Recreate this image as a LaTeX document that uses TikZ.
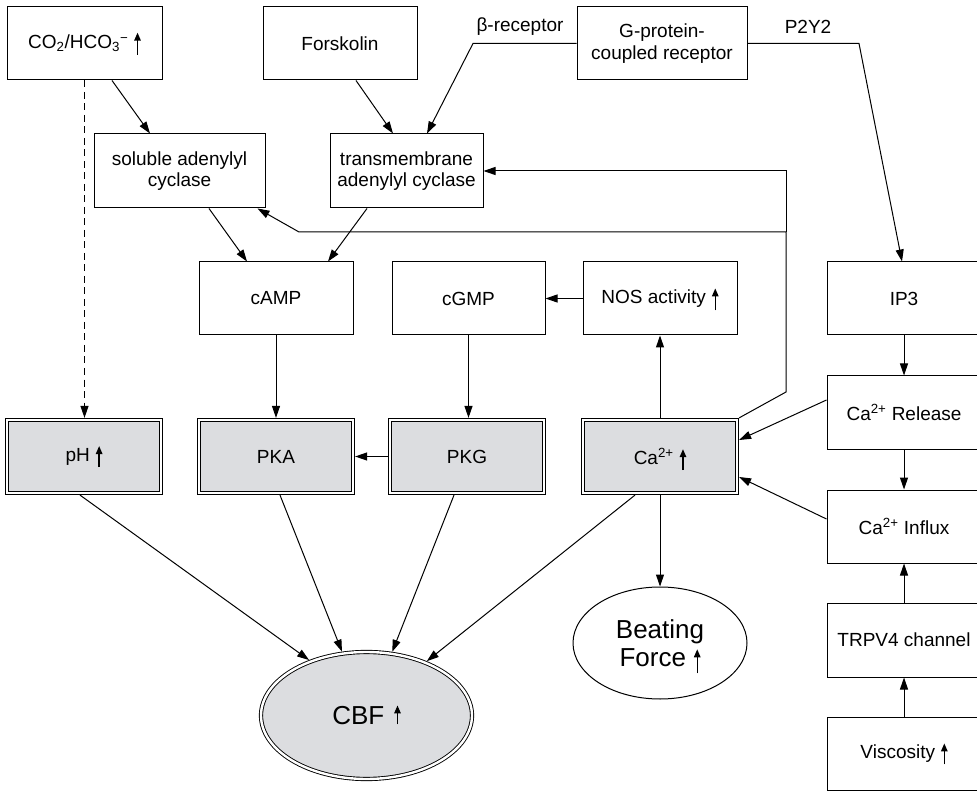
\documentclass[tikz,border=0pt]{standalone}
\usepackage{fontspec}
\setmainfont{Liberation Sans}
\usetikzlibrary{arrows.meta,shapes.geometric}
\definecolor{boxgray}{RGB}{220,221,224}
\newcommand\upar[3][6pt]{\hspace{#1}\smash{\tikz[baseline=0pt]\draw[line width=1.4pt,-{Triangle[length=8pt,width=6.5pt]}](0pt,#2)--(0pt,#3);}}
\tikzset{
  bx/.style={draw, line width=1pt, minimum width=#1, minimum height=73pt, inner sep=0pt, align=center, font=\fontsize{19}{21.5}\selectfont},
  bx/.default=154pt,
  dbx/.style={bx=154pt, fill=boxgray, double=white, double distance=2.4pt, line width=0.9pt, outer sep=2.1pt},
  lbl/.style={inner sep=0pt, font=\fontsize{19}{21.5}\selectfont},
  con/.style={line width=1pt, -{Triangle[length=12pt,width=8pt]}},
}
\begin{document}
\begin{tikzpicture}[x=1pt,y=1pt]
\useasboundingbox (0,0) rectangle (977,-791);
\clip (0,0) rectangle (977,-791);
% top row
\node[bx=155pt] (co2) at (84.5,-43.5) {CO\textsubscript{2}/HCO\textsubscript{3}\textsuperscript{−}\upar{-6pt}{16pt}};
\node[bx] (forsk) at (340,-43.5) {Forskolin};
\node[bx=170pt] (gpcr) at (662,-43.5) {G-protein-\\coupled receptor};
\node[lbl] (lbeta) at (520,-27) {β-receptor};
\node[lbl] (lp2y2) at (808,-27) {P2Y2};
% cyclases
\node[bx=171pt, minimum height=74pt] (sac) at (179.5,-171) {soluble adenylyl\\cyclase};
\node[bx=153pt, minimum height=74pt] (tac) at (406.5,-171) {transmembrane\\adenylyl cyclase};
% second messengers
\node[bx] (camp) at (276,-298.5) {cAMP};
\node[bx=153pt] (cgmp) at (468.5,-298.5) {cGMP};
\node[bx] (nos) at (660,-298.5) {NOS activity\upar{-7pt}{15pt}};
\node[bx] (ip3) at (904,-298.5) {IP3};
% double boxes
\node[dbx] (ph) at (84,-456.5) {pH\upar{-6pt}{15pt}};
\node[dbx] (pka) at (276,-456.5) {PKA};
\node[dbx] (pkg) at (467,-456.5) {PKG};
\node[dbx] (ca) at (660,-456.5) {Ca\textsuperscript{2+}\upar{-6pt}{15pt}};
% right column
\node[bx] (rel) at (904,-412.5) {Ca\textsuperscript{2+} Release};
\node[bx] (inf) at (904,-526.5) {Ca\textsuperscript{2+} Influx};
\node[bx, minimum height=74pt] (trpv) at (904,-640) {TRPV4 channel};
\node[bx] (visc) at (904,-753.5) {Viscosity\upar{-6pt}{15pt}};
% ellipses
\node[draw, ellipse, line width=1pt, minimum width=174pt, minimum height=112pt, inner sep=0pt, align=center, font=\fontsize{26}{28}\selectfont] (bf) at (660,-643) {Beating\\Force\upar[8pt]{-7pt}{17pt}};
\node[draw, ellipse, fill=boxgray, double=white, double distance=2.4pt, line width=0.9pt, outer sep=2.1pt, minimum width=211pt, minimum height=127pt, inner sep=0pt, font=\fontsize{26}{28}\selectfont] (cbf) at (366.5,-715.5) {CBF\upar[10pt]{0pt}{19pt}};
% connectors
\draw[con] ([xshift=27.5pt]co2.south) -- ([xshift=-29.5pt]sac.north);
\draw[con, dash pattern=on 7pt off 4.5pt] (co2.south) -- (co2.south |- ph.north);
\draw[con] ([xshift=16pt]forsk.south) -- ([xshift=-13.5pt]tac.north);
\coordinate (b1) at (473,-43.5);
\draw[con] (gpcr.west) -- (b1) -- ([xshift=20.5pt]tac.north);
\coordinate (p1) at (859,-43.5);
\draw[con] (gpcr.east) -- (p1) -- ([xshift=-2pt]ip3.north);
\draw[con] ([xshift=29.5pt]sac.south) -- ([xshift=-29pt]camp.north);
\draw[con] ([xshift=-39.5pt]tac.south) -- ([xshift=52pt]camp.north);
\draw[con] (nos) -- (cgmp);
\draw[con] (camp) -- (pka);
\draw[con] (cgmp.south) -- (cgmp.south |- pkg.north);
\draw[con] (pkg) -- (pka);
\draw[con] (ca) -- (nos);
\draw[con] (ca) -- (bf);
\draw[con] (ip3) -- (rel);
\draw[con] (rel) -- (inf);
\draw[con] (trpv) -- (inf);
\draw[con] (visc) -- (trpv);
\draw[con] ([yshift=12.5pt]rel.west) -- ([yshift=16.5pt]ca.east);
\draw[con] ([yshift=7.5pt]inf.west) -- ([yshift=-20.5pt]ca.east);
\coordinate (f1) at (786,-392);
\coordinate (f2) at (786,-232);
\coordinate (f3) at (299,-232);
\draw[con] (ca.north east) -- (f1) -- (f2) -- (f3) -- ([xshift=-8pt]sac.south east);
\draw[con] (f2) |- (tac.east);
\draw[con] ([xshift=-4pt]ph.south) -- (cbf.136);
\draw[con] ([xshift=4pt]pka.south) -- (cbf.111);
\draw[con] ([xshift=-13pt]pkg.south) -- (cbf.68);
\draw[con] ([xshift=-25pt]ca.south) -- (cbf.42);
\end{tikzpicture}
\end{document}
